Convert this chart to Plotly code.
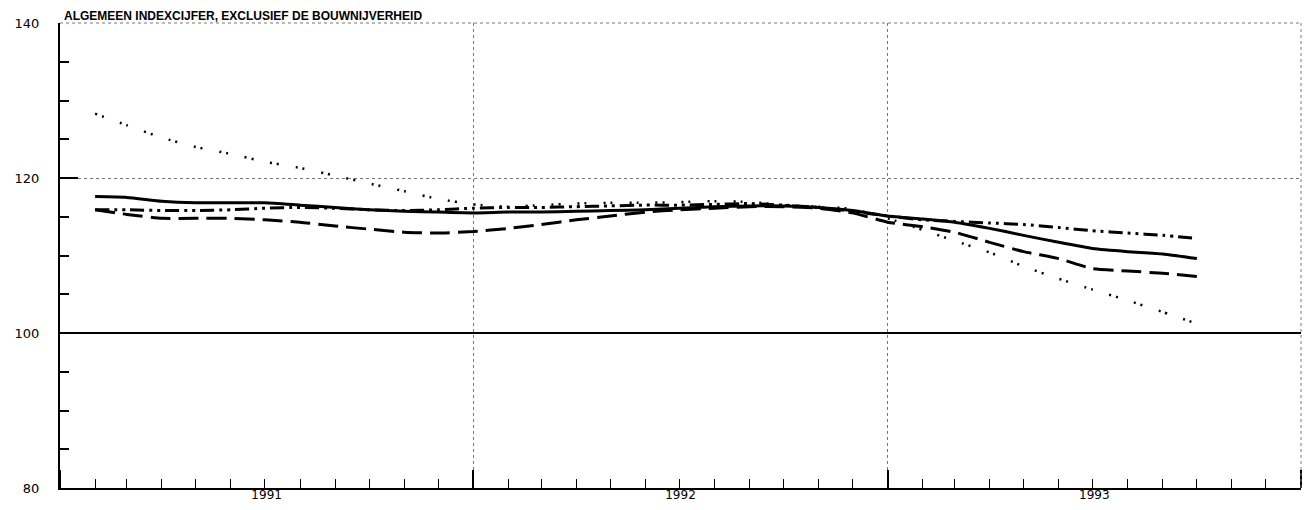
import plotly.graph_objects as go

# Monthly observations, Feb 1991 .. Oct 1993
months = [f"{y}-{m:02d}-01" for y in (1991, 1992, 1993) for m in range(1, 13)][1:34]

solid = [117.6, 117.5, 117.0, 116.8, 116.8, 116.8, 116.5, 116.2, 115.9, 115.7, 115.6,
         115.5, 115.6, 115.6, 115.7, 115.8, 115.9, 116.1, 116.3, 116.4, 116.4, 116.2, 115.8,
         115.1, 114.7, 114.3, 113.5, 112.6, 111.7, 110.9, 110.5, 110.2, 109.6]
dashdot = [115.9, 115.9, 115.8, 115.8, 115.9, 116.1, 116.2, 116.1, 115.9, 115.8, 115.9,
           116.1, 116.2, 116.2, 116.3, 116.4, 116.5, 116.5, 116.6, 116.7, 116.5, 116.2, 115.7,
           115.1, 114.6, 114.4, 114.2, 114.0, 113.6, 113.2, 112.9, 112.6, 112.2]
dashed = [115.9, 115.3, 114.8, 114.8, 114.8, 114.6, 114.3, 113.8, 113.4, 113.0, 112.9,
          113.1, 113.5, 114.0, 114.6, 115.1, 115.6, 115.9, 116.1, 116.3, 116.3, 116.1, 115.5,
          114.3, 113.7, 113.0, 111.7, 110.5, 109.6, 108.3, 108.0, 107.7, 107.3]
dotted = [128.3, 126.8, 125.2, 124.0, 123.1, 122.1, 121.3, 120.3, 119.3, 118.3, 117.3,
          116.6, 116.3, 116.5, 116.7, 116.8, 116.8, 116.9, 117.0, 116.9, 116.5, 116.3, 116.0,
          114.8, 113.3, 111.9, 110.4, 108.6, 107.0, 105.6, 104.2, 102.7, 101.2]

title_text = "ALGEMEEN INDEXCIJFER, EXCLUSIEF DE BOUWNIJVERHEID"
y_ticks = [80, 100, 120, 140]

fig = go.Figure()
series = [
    ("reeks 1", dotted, "2px,5px,2px,17px", 2.5),
    ("reeks 2", dashed, "20px,8px", 3),
    ("reeks 3", dashdot, "14px,5px,3px,5px,3px,5px", 3),
    ("reeks 4", solid, "solid", 3),
]
for name, vals, dash, w in series:
    fig.add_trace(go.Scatter(
        x=months, y=vals, name=name, mode="lines",
        line=dict(color="black", width=w, dash=dash, shape="spline", smoothing=0.5),
    ))

fig.add_hline(y=100, line=dict(color="black", width=2))
# dotted frame on top and right edges
fig.add_shape(type="line", xref="paper", yref="paper", x0=0, x1=1, y0=1, y1=1,
              line=dict(color="#777777", width=1, dash="dot"))
fig.add_shape(type="line", xref="paper", yref="paper", x0=1, x1=1, y0=0, y1=1,
              line=dict(color="#777777", width=1, dash="dot"))

fig.update_layout(
    width=1306, height=510,
    margin=dict(l=60, r=5, t=23, b=22, autoexpand=False),
    plot_bgcolor="white", paper_bgcolor="white",
    showlegend=False,
    font=dict(family="DejaVu Sans", color="black"),
    annotations=[dict(
        text=f"<b>{title_text}</b>", xref="paper", yref="paper", x=0, y=1,
        xanchor="left", yanchor="bottom", xshift=2, yshift=-2, showarrow=False,
        font=dict(family="Liberation Sans, Arial", size=12, color="black"),
    )],
)

fig.update_xaxes(
    type="date", range=["1991-01-01", "1994-01-01"], automargin=False,
    tick0="1991-01-01", dtick="M12", tickformat="%Y", ticklabelmode="period",
    ticks="inside", ticklen=18, tickwidth=1.5, tickcolor="black",
    showline=True, linecolor="black", linewidth=2, mirror=False,
    showgrid=True, gridcolor="#777777", griddash="dot", gridwidth=1,
    ticklabelstandoff=-5,
    tickfont=dict(family="DejaVu Sans", size=12, color="black"),
    minor=dict(dtick="M1", ticks="inside", ticklen=9, tickwidth=1, tickcolor="black", showgrid=False),
)
fig.update_yaxes(
    range=[80, 140], tickvals=y_ticks, automargin=False,
    ticks="inside", ticklen=18, tickwidth=1.5, tickcolor="black",
    showline=True, linecolor="black", linewidth=2, mirror=False,
    showgrid=True, gridcolor="#777777", griddash="dot", gridwidth=1,
    zeroline=False, ticklabelstandoff=16,
    tickfont=dict(family="DejaVu Sans", size=13, color="black"),
    minor=dict(dtick=5, ticks="inside", ticklen=9, tickwidth=1.5, tickcolor="black", showgrid=False),
)

fig.write_html(
    "out.html",
    config={"displayModeBar": False},
    post_script="document.body.style.margin='0';document.body.style.overflow='hidden';",
)
